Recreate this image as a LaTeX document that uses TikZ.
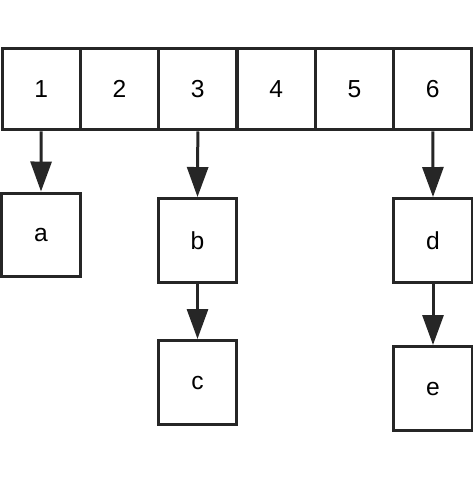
\documentclass[tikz,border=0pt]{standalone}
\usepackage{fontspec}
\setmainfont{Liberation Sans}
\usetikzlibrary{arrows.meta}
\tikzset{
  cell/.style={draw=black!85, line width=0.06cm, minimum width=1.566cm,
    minimum height=1.64cm, inner sep=0pt, font=\fontsize{14}{16}\selectfont},
  leaf/.style={cell, minimum height=1.68cm},
  link/.style={draw=black!85, line width=0.06cm,
    -{Triangle[length=0.6cm,width=0.42cm]}}
}
\begin{document}
\begin{tikzpicture}[x=0.02cm,y=-0.02cm]
  \useasboundingbox (0,0) rectangle (473,477);
  % top row
  \foreach \i in {1,...,6}
    \node[cell] (cell\i) at ({2+(\i-0.5)*78.33},89) {\i};
  % boxes below
  \node[leaf] (a) at (41,235) {a};
  \node[leaf] (b) at (197.5,240.5) {b};
  \node[leaf] (c) at (197.5,382.5) {c};
  \node[leaf] (d) at (433,240.5) {d};
  \node[leaf] (e) at (433,388.5) {e};
  \draw[link] (cell1.south) -- (a.north);
  \draw[link] (cell3.south) -- (b.north);
  \draw[link] (b.south) -- (c.north);
  \draw[link] (cell6.south) -- (d.north);
  \draw[link] (d.south) -- (e.north);
\end{tikzpicture}
\end{document}
